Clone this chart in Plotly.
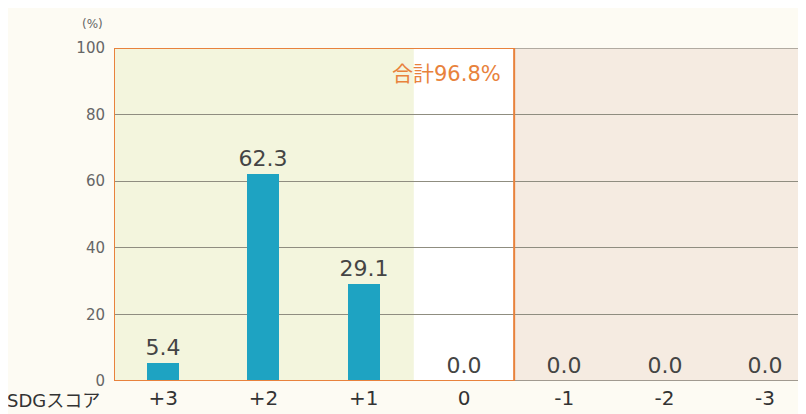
import plotly.graph_objects as go

categories = ["+3", "+2", "+1", "0", "-1", "-2", "-3"]
values = [5.4, 62.3, 29.1, 0.0, 0.0, 0.0, 0.0]
value_labels = ["5.4", "62.3", "29.1", "0.0", "0.0", "0.0", "0.0"]
y_ticks = [0, 20, 40, 60, 80, 100]
total_label = "合計96.8%"
axis_label = "SDGスコア"
unit_label = "(%)"

idx = list(range(len(categories)))
FONT = "DejaVu Sans, Noto Sans CJK JP"

fig = go.Figure()
fig.add_trace(go.Bar(
    x=idx, y=values, width=0.32,
    marker=dict(color="#1ea3c2", line=dict(width=0)),
    text=value_labels, textposition="outside", cliponaxis=False,
    constraintext="none",
    textfont=dict(size=22, color="#444444", family=FONT),
))

shapes = [
    dict(type="rect", xref="x", yref="y", x0=-0.49, x1=2.5, y0=0, y1=100,
         fillcolor="#f3f5dd", line=dict(width=0), layer="below"),
    dict(type="rect", xref="x", yref="y", x0=2.5, x1=3.5, y0=0, y1=100,
         fillcolor="#ffffff", line=dict(width=0), layer="below"),
    dict(type="rect", xref="x", yref="y", x0=3.5, x1=6.41, y0=0, y1=100,
         fillcolor="#f5ebe1", line=dict(width=0), layer="below"),
    dict(type="line", xref="x", yref="y", x0=3.5, x1=6.41, y0=100, y1=100,
         line=dict(color="#9a948a", width=1.5), layer="between"),
    dict(type="line", xref="x", yref="y", x0=3.5, x1=6.41, y0=0, y1=0,
         line=dict(color="#857f74", width=1.5), layer="between"),
    dict(type="rect", xref="x", yref="y", x0=-0.49, x1=3.5, y0=0, y1=100,
         fillcolor="rgba(0,0,0,0)", line=dict(color="#e8823c", width=2), layer="above"),
]

fig.update_layout(
    width=798, height=406,
    margin=dict(l=106, r=0, t=40, b=33),
    paper_bgcolor="#fdfbf3", plot_bgcolor="rgba(0,0,0,0)",
    showlegend=False, bargap=0,
    font=dict(family=FONT),
    shapes=shapes,
    xaxis=dict(range=[-0.49, 6.41], tickvals=idx, ticktext=categories,
               showgrid=False, zeroline=False, showline=False, ticks="",
               ticklabelstandoff=3,
               tickfont=dict(size=20, color="#333333", family=FONT)),
    yaxis=dict(range=[0, 100], tickvals=y_ticks, showgrid=True,
               gridcolor="#8f8d80", gridwidth=1, zeroline=False, showline=False,
               ticks="", ticklen=0, ticklabelstandoff=8,
               tickfont=dict(size=15, color="#666666", family=FONT)),
    annotations=[
        dict(text=total_label, xref="x", yref="y", x=3.39, y=96.5, xanchor="right",
             yanchor="top", showarrow=False,
             font=dict(size=21, color="#e8823c", family=FONT)),
        dict(text=axis_label, xref="paper", yref="paper", x=-0.157, y=-0.02,
             xanchor="left", yanchor="top", showarrow=False,
             font=dict(size=18, color="#333333", family=FONT)),
        dict(text=unit_label, xref="paper", yref="paper", x=-0.013, y=1.045,
             xanchor="right", yanchor="bottom", showarrow=False,
             font=dict(size=12, color="#666666", family=FONT)),
    ],
)

fig.write_html("out.html")
